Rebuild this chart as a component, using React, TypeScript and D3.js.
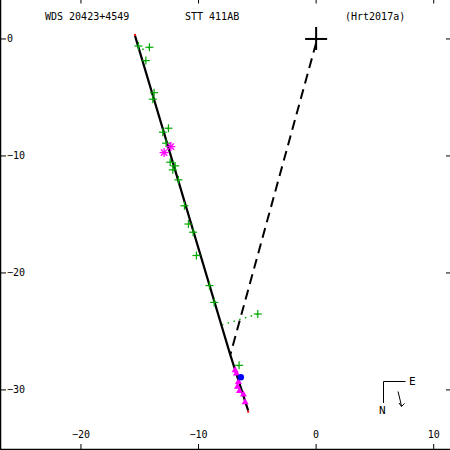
import React from 'react';
import * as d3 from 'd3';

const obsX = [-15.11, -14.18, -14.48, -13.78, -13.89, -12.56, -13.04, -12.76, -12.41, -11.99, -12.19, -11.71, -11.2, -10.86, -10.46, -10.18, -9.07, -8.67, -4.96, -6.55];
const obsY = [-0.6, -0.71, -1.85, -4.59, -5.15, -7.63, -7.97, -8.91, -10.53, -10.85, -11.19, -12.04, -14.26, -15.82, -16.52, -18.51, -21.08, -22.52, -23.51, -27.9];
const starX = [-12.36, -12.93];
const starY = [-9.2, -9.71];
const triX = [-6.89, -6.78, -6.61, -6.69, -6.52, -6.18, -6.04];
const triY = [-28.27, -28.55, -29.27, -29.69, -30.06, -30.34, -31.02];
const blueX = [-6.4];
const blueY = [-28.92];
const orbitX = [-15.4, -7.3, -5.78];
const orbitY = [0.26, -27.0, -31.77];
const periastron = [-7.3, -27.0];
const xTicks = [-20, -10, 0, 10];
const yTicks = [0, -10, -20, -30];

const W = 450;
const H = 450;
const font = 'DejaVu Sans Mono, monospace';

const fmt = (t: number) => (t < 0 ? '\u2212' + Math.abs(t) : String(t));

const App = () => {
  const x = d3.scaleLinear().domain([-26.8, 11.3]).range([1, 449]);
  const y = d3.scaleLinear().domain([3.33, -35.05]).range([0, 449]);

  const orbit = orbitX.map((d, i) => [x(d), y(orbitY[i])] as [number, number]);
  const line = d3.line();

  // residual: foot of the perpendicular on the orbit line
  const [ax, ay] = orbit[0];
  const [bx, by] = orbit[orbit.length - 1];
  const len = Math.hypot(bx - ax, by - ay);
  const ux = (bx - ax) / len;
  const uy = (by - ay) / len;
  const foot = (px: number, py: number) => {
    const t = (px - ax) * ux + (py - ay) * uy;
    return [ax + t * ux, ay + t * uy];
  };

  const green = '#00a800';
  const magenta = '#ff00ff';

  return (
    <svg width={W} height={H} style={{ position: 'absolute', left: 0, top: 0 }} fontFamily={font} fontSize={10}>
      <rect width={W} height={H} fill="#fff" />
      {/* frame */}
      <line x1={0.5} y1={0} x2={0.5} y2={H} stroke="#000" strokeWidth={1.5} />
      <line x1={0} y1={449.5} x2={W} y2={449.5} stroke="#000" strokeWidth={1.5} />
      {xTicks.map((t) => (
        <g key={'x' + t}>
          <line x1={x(t)} x2={x(t)} y1={449} y2={444} stroke="#000" />
          <line x1={x(t)} x2={x(t)} y1={0} y2={3.5} stroke="#000" />
          <text x={x(t)} y={438} textAnchor="middle">{fmt(t)}</text>
        </g>
      ))}
      {yTicks.map((t) => (
        <g key={'y' + t}>
          <line x1={1} x2={6} y1={y(t)} y2={y(t)} stroke="#000" />
          <line x1={446} x2={450} y1={y(t)} y2={y(t)} stroke="#000" />
          <text x={7} y={y(t) + 3.5}>{fmt(t)}</text>
        </g>
      ))}
      <text x={45} y={20}>WDS 20423+4549</text>
      <text x={185} y={20}>STT 411AB</text>
      <text x={345} y={20}>(Hrt2017a)</text>

      {/* residual lines */}
      {obsX.map((d, i) => {
        const px = x(d);
        const py = y(obsY[i]);
        const [fx, fy] = foot(px, py);
        return <line key={'r' + i} x1={px} y1={py} x2={fx} y2={fy} stroke={green} strokeWidth={1.5} strokeDasharray="1.5,4.5" />;
      })}

      {/* line of apsides */}
      <line x1={x(0)} y1={y(0) + 4} x2={x(periastron[0])} y2={y(periastron[1])} stroke="#000" strokeWidth={2} strokeDasharray="10,6" />

      {/* orbit */}
      <path d={line(orbit) ?? ''} fill="none" stroke="#000" strokeWidth={2.2} />
      <rect x={orbit[0][0] - 1} y={orbit[0][1] - 2} width={2} height={2} fill="red" />
      <rect x={bx - 1} y={by} width={2} height={2} fill="red" />

      {/* primary */}
      <line x1={x(0) - 11} x2={x(0) + 11} y1={y(0)} y2={y(0)} stroke="#000" strokeWidth={2} />
      <line x1={x(0)} x2={x(0)} y1={y(0) - 12} y2={y(0) + 11} stroke="#000" strokeWidth={2} />

      {/* observations */}
      {obsX.map((d, i) => (
        <g key={'o' + i} stroke={green} strokeWidth={1.2}>
          <line x1={x(d) - 4} x2={x(d) + 4} y1={y(obsY[i])} y2={y(obsY[i])} />
          <line x1={x(d)} x2={x(d)} y1={y(obsY[i]) - 4} y2={y(obsY[i]) + 4} />
        </g>
      ))}
      {starX.map((d, i) => {
        const cx = x(d);
        const cy = y(starY[i]);
        return (
          <g key={'s' + i} stroke={magenta} strokeWidth={1.3}>
            {[0, 45, 90, 135].map((a) => {
              const r = (a * Math.PI) / 180;
              return <line key={a} x1={cx - 4.5 * Math.cos(r)} y1={cy - 4.5 * Math.sin(r)} x2={cx + 4.5 * Math.cos(r)} y2={cy + 4.5 * Math.sin(r)} />;
            })}
          </g>
        );
      })}
      {triX.map((d, i) => {
        const cx = x(d);
        const cy = y(triY[i]);
        return <path key={'t' + i} d={`M${cx},${cy - 3.5}L${cx + 3.5},${cy + 2.5}L${cx - 3.5},${cy + 2.5}Z`} fill={magenta} />;
      })}
      {blueX.map((d, i) => (
        <circle key={'b' + i} cx={x(d)} cy={y(blueY[i])} r={3.2} fill="#0000ff" />
      ))}

      {/* compass */}
      <g stroke="#000" fill="none" strokeWidth={1}>
        <path d="M405.5,381.5H383.5V403" />
        <path d="M398,391.5Q400,399 401.5,406.5M399,403L401.5,406.5L404.5,403.5" />
      </g>
      <text x={409} y={385} fontSize={11}>E</text>
      <text x={379} y={414} fontSize={11}>N</text>
    </svg>
  );
};

export default App;
